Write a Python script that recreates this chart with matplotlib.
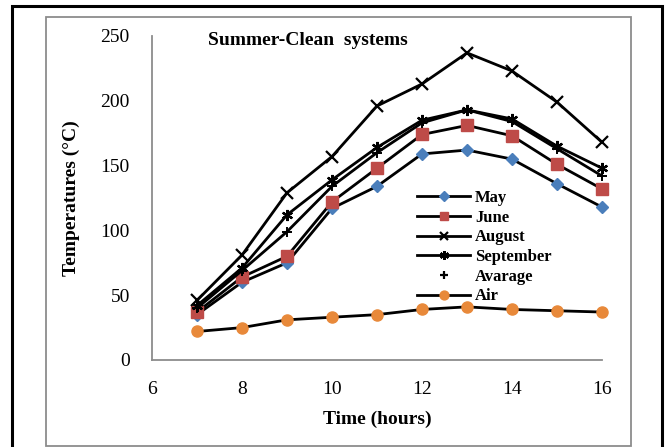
import matplotlib.pyplot as plt
from matplotlib.lines import Line2D
from matplotlib.patches import Rectangle

plt.rcParams['font.family'] = ['Liberation Serif', 'DejaVu Serif']

hours = [7, 8, 9, 10, 11, 12, 13, 14, 15, 16]
may = [35, 60, 75, 117, 134, 159, 162, 155, 136, 118]
june = [37, 64, 80, 122, 148, 174, 181, 173, 151, 132]
august = [46, 81, 129, 157, 196, 213, 237, 223, 199, 168]
september = [42, 71, 112, 139, 164, 185, 193, 186, 165, 148]
avarage = [40, 69, 99, 134, 160, 183, 193, 184, 163, 142]
air = [22, 25, 31, 33, 35, 39, 41, 39, 38, 37]

fig = plt.figure(figsize=(6.65, 4.47), dpi=100)

# outer black frame and inner grey chart border
fig.patches.append(Rectangle((12 / 665, -0.05), 650 / 665, 1 - 6 / 447 + 0.05,
                             transform=fig.transFigure, fill=False,
                             edgecolor='black', linewidth=2.2))
fig.patches.append(Rectangle((45.5 / 665, 1 - 446 / 447), 585.5 / 665, 429 / 447,
                             transform=fig.transFigure, fill=False,
                             edgecolor='#8c8c8c', linewidth=1.3))

ax = fig.add_axes([152 / 665, 1 - 360 / 447, 450 / 665, 324 / 447])

lw = 2.0
ax.plot(hours, may, color='black', lw=lw, marker='D', ms=6,
        mfc='#4A7EBB', mec='#4A7EBB', label='May', clip_on=False)
ax.plot(hours, june, color='black', lw=lw, marker='s', ms=8,
        mfc='#BE4B48', mec='#BE4B48', label='June', clip_on=False)
ax.plot(hours, august, color='black', lw=lw, marker='x', ms=8,
        mew=1.6, label='August', clip_on=False)
ax.plot(hours, september, color='black', lw=lw, marker=(6, 2, 0), ms=8,
        mew=1.6, label='September', clip_on=False)
ax.plot(hours, avarage, color='black', lw=lw, marker='+', ms=7, mew=1.4,
        clip_on=False)
ax.plot(hours, air, color='black', lw=lw, marker='o', ms=8,
        mfc='#E8893A', mec='#E8893A', label='Air', clip_on=False)

ax.set_xlim(6, 16)
ax.set_ylim(0, 250)
ax.set_xticks([6, 8, 10, 12, 14, 16])
ax.set_yticks([0, 50, 100, 150, 200, 250])
ax.tick_params(length=0, labelsize=14)
ax.tick_params(axis='y', pad=16)
ax.tick_params(axis='x', pad=15)
for s in ['top', 'right']:
    ax.spines[s].set_visible(False)
for s in ['left', 'bottom']:
    ax.spines[s].set_color('#8c8c8c')
    ax.spines[s].set_linewidth(1.3)

ax.set_xlabel('Time (hours)', fontsize=14, fontweight='bold', labelpad=9)
ax.set_ylabel('Temperatures (°C)', fontsize=14, fontweight='bold', labelpad=15)
ax.text(0.125, 0.985, 'Summer-Clean  systems', transform=ax.transAxes,
        fontsize=14, fontweight='bold', va='center', ha='left')

handles, labels = ax.get_legend_handles_labels()
avg_handle = Line2D([], [], color='black', lw=0, marker='+', ms=7, mew=1.6)
handles.insert(4, avg_handle)
labels.insert(4, 'Avarage')
ax.legend(handles, labels, loc='upper left', bbox_to_anchor=(0.57, 0.55),
          frameon=False, prop={'weight': 'bold', 'size': 12},
          handlelength=3.2, handletextpad=0.3, labelspacing=0.22,
          borderpad=0, markerscale=0.8)

fig.savefig('out.png', dpi=100)
